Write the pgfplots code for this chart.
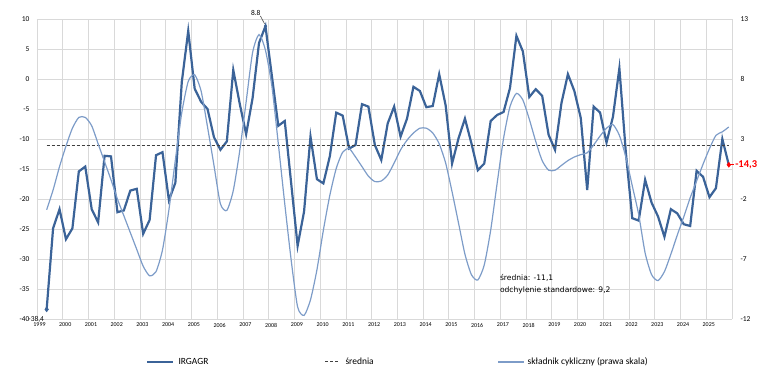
\documentclass[border=0pt]{standalone}
\usepackage{pgfplots}
\pgfplotsset{compat=1.18}
\usepackage{fontspec}
\setmainfont{Carlito}
\newfontfamily\notefont{DejaVu Sans}
\definecolor{dblue}{HTML}{3B6398}
\definecolor{lblue}{HTML}{7D9CC8}
\definecolor{gridc}{HTML}{D9D9D9}
\definecolor{meanc}{HTML}{404040}
\pgfplotsset{
  base/.style={
    scale only axis, width=695bp, height=300bp,
    at={(37bp,71bp)}, anchor=south west,
    xmin=1999, xmax=2026,
    clip=false,
    tick style={draw=none}, major tick length=0pt,
    axis line style={draw=none},
    /pgf/number format/assume math mode=true,
  },
  shortleg/.style={legend image code/.code={\draw[##1] (0bp,0bp) -- (14bp,0bp);}},
  longleg/.style={legend image code/.code={\draw[##1] (0bp,0bp) -- (26bp,0bp);}},
}
\begin{document}
\begin{tikzpicture}
\useasboundingbox (0bp,0bp) rectangle (770bp,390bp);
\begin{axis}[base,
  ymin=-40, ymax=10,
  xtick={1999,2000,...,2026},
  xticklabels={1999,2000,2001,2002,2003,2004,2005,2006,2007,2008,2009,2010,2011,2012,2013,2014,2015,2016,2017,2018,2019,2020,2021,2022,2023,2024,2025,{}},
  x tick label style={font=\fontsize{6}{7}\selectfont, yshift=-0.5bp, xshift=2.5bp},
  ytick={-40,-35,...,10},
  y tick label style={font=\fontsize{7.5}{9}\selectfont, xshift=-4bp},
  grid=major, major grid style={gridc, line width=0.75bp},
  legend columns=3,
  legend style={draw=none, fill=none, at={(0.157,-0.143)}, anchor=west,
    font=\fontsize{9.5}{11}\selectfont, inner sep=0pt,
    nodes={inner sep=0pt}, /tikz/column sep=0pt},
  longleg,
]
\addplot[dblue, line width=2.2bp] coordinates {
(1999.375,-38.4) (1999.625,-24.9) (1999.875,-21.7)
(2000.125,-26.7) (2000.375,-24.9) (2000.625,-15.4) (2000.875,-14.6)
(2001.125,-21.7) (2001.375,-23.9) (2001.625,-12.8) (2001.875,-12.9)
(2002.125,-22.2) (2002.375,-21.9) (2002.625,-18.6) (2002.875,-18.3)
(2003.125,-25.8) (2003.375,-23.5) (2003.625,-12.7) (2003.875,-12.2)
(2004.125,-20.2) (2004.375,-17.3) (2004.625,-0.5) (2004.875,8.0)
(2005.125,-1.6) (2005.375,-3.8) (2005.625,-5.0) (2005.875,-9.7)
(2006.125,-11.8) (2006.375,-10.4) (2006.625,1.5) (2006.875,-4.1)
(2007.125,-9.2) (2007.375,-3.2) (2007.625,6.0) (2007.875,8.8)
(2008.125,0.5) (2008.375,-7.8) (2008.625,-7.0) (2008.875,-17.4)
(2009.125,-27.8) (2009.375,-22.1) (2009.625,-9.6) (2009.875,-16.7)
(2010.125,-17.4) (2010.375,-12.9) (2010.625,-5.6) (2010.875,-6.1)
(2011.125,-11.6) (2011.375,-11.0) (2011.625,-4.2) (2011.875,-4.6)
(2012.125,-11.0) (2012.375,-13.5) (2012.625,-7.4) (2012.875,-4.6)
(2013.125,-9.6) (2013.375,-6.6) (2013.625,-1.3) (2013.875,-2.0)
(2014.125,-4.7) (2014.375,-4.5) (2014.625,0.8) (2014.875,-4.4)
(2015.125,-14.1) (2015.375,-9.9) (2015.625,-6.6) (2015.875,-10.7)
(2016.125,-15.2) (2016.375,-14.1) (2016.625,-7.0) (2016.875,-6.0)
(2017.125,-5.5) (2017.375,-1.5) (2017.625,7.2) (2017.875,4.6)
(2018.125,-3.0) (2018.375,-1.7) (2018.625,-2.8) (2018.875,-9.3)
(2019.125,-11.8) (2019.375,-4.0) (2019.625,0.8) (2019.875,-2.0)
(2020.125,-6.5) (2020.375,-18.5) (2020.625,-4.6) (2020.875,-5.6)
(2021.125,-10.6) (2021.375,-6.3) (2021.625,1.8) (2021.875,-12.2)
(2022.125,-23.2) (2022.375,-23.6) (2022.625,-16.8) (2022.875,-20.6)
(2023.125,-22.9) (2023.375,-26.3) (2023.625,-21.7) (2023.875,-22.4)
(2024.125,-24.2) (2024.375,-24.5) (2024.625,-15.3) (2024.875,-16.3)
(2025.125,-19.7) (2025.375,-18.2) (2025.625,-10.0) (2025.875,-14.3)
};
\addlegendentry{\makebox[150bp][l]{\hspace{4bp}IRGAGR}}
\addplot[meanc, line width=1bp, dash pattern=on 3bp off 2bp, shortleg] coordinates {(1999.375,-11.1) (2025.875,-11.1)};
\addlegendentry{\makebox[158bp][l]{\hspace{6bp}średnia}}
\addlegendimage{lblue, line width=1.2bp}
\addlegendentry{\hspace{3bp}składnik cykliczny (prawa skala)}
% markers
\addplot[forget plot, only marks, mark=diamond*, mark size=2.5bp, dblue] coordinates {(1999.375,-38.4)};
\addplot[forget plot, only marks, mark=diamond*, mark size=1.8bp, dblue] coordinates {(2007.875,8.8)};
\addplot[forget plot, only marks, mark=diamond*, mark size=2.5bp, red] coordinates {(2025.875,-14.3)};
\node[anchor=east, font=\fontsize{7.5}{9}\selectfont, inner sep=0pt] at (axis cs:1999.28,-40) {-38,4};
\node[anchor=south, font=\fontsize{7.5}{9}\selectfont, inner sep=0pt] at (axis cs:2007.5,10.6) {8.8};
\draw[black!70, line width=0.6bp] (axis cs:2007.68,10.5) -- (axis cs:2007.84,9.2);
\node[anchor=west, text=red, font=\bfseries\fontsize{10.5}{12}\selectfont, inner sep=0pt] at (axis cs:2026.12,-14.3) {-14,3};
\draw[red, line width=1bp] (axis cs:2025.9,-14.3) -- (axis cs:2026.08,-14.3);
\node[anchor=north west, align=left, font=\notefont\fontsize{7.6}{11.5}\selectfont, inner sep=0pt] at (axis cs:2016.98,-32.6) {średnia: -11,1\\odchylenie standardowe: 9,2};
\end{axis}
\begin{axis}[base,
  ymin=-12, ymax=13,
  axis y line*=right, axis x line=none,
  ytick={-12,-7,-2,3,8,13},
  y tick label style={font=\fontsize{7.5}{9}\selectfont, xshift=5bp},
]
\addplot[lblue, line width=1.2bp, smooth, tension=0.4] coordinates {
(1999.375,-2.9) (1999.625,-1.25) (1999.875,0.7)
(2000.125,2.4) (2000.375,3.9) (2000.625,4.8) (2000.875,4.8)
(2001.125,4.1) (2001.375,2.6) (2001.625,1.1) (2001.875,-0.4)
(2002.125,-2.0) (2002.375,-3.4) (2002.625,-4.8) (2002.875,-6.2)
(2003.125,-7.6) (2003.375,-8.4) (2003.625,-8.05) (2003.875,-6.25)
(2004.125,-2.9) (2004.375,1.25) (2004.625,5.2) (2004.875,7.8)
(2005.125,8.35) (2005.375,7.0) (2005.625,4.0) (2005.875,0.8)
(2006.125,-2.4) (2006.375,-2.95) (2006.625,-1.3) (2006.875,2.0)
(2007.125,6.1) (2007.375,10.2) (2007.625,11.7) (2007.875,10.4)
(2008.125,7.4) (2008.375,2.6) (2008.625,-2.4) (2008.875,-7.1)
(2009.125,-11.0) (2009.375,-11.7) (2009.625,-10.4) (2009.875,-7.9)
(2010.125,-4.6) (2010.375,-1.7) (2010.625,0.55) (2010.875,1.9)
(2011.125,2.2) (2011.375,1.5) (2011.625,0.7) (2011.875,-0.1)
(2012.125,-0.55) (2012.375,-0.5) (2012.625,0.0) (2012.875,1.0)
(2013.125,2.1) (2013.375,2.9) (2013.625,3.5) (2013.875,3.9)
(2014.125,3.9) (2014.375,3.5) (2014.625,2.6) (2014.875,1.0)
(2015.125,-1.4) (2015.375,-4.0) (2015.625,-6.6) (2015.875,-8.3)
(2016.125,-8.75) (2016.375,-7.5) (2016.625,-4.6) (2016.875,-0.7)
(2017.125,3.05) (2017.375,5.7) (2017.625,6.8) (2017.875,6.25)
(2018.125,4.65) (2018.375,2.8) (2018.625,1.2) (2018.875,0.4)
(2019.125,0.4) (2019.375,0.8) (2019.625,1.2) (2019.875,1.5)
(2020.125,1.7) (2020.375,1.85) (2020.625,2.5) (2020.875,3.25)
(2021.125,3.9) (2021.375,4.2) (2021.625,3.3) (2021.875,1.5)
(2022.125,-0.9) (2022.375,-3.3) (2022.625,-6.5) (2022.875,-8.3)
(2023.125,-8.8) (2023.375,-8.05) (2023.625,-6.6) (2023.875,-5.0)
(2024.125,-3.5) (2024.375,-1.9) (2024.625,-0.5) (2024.875,0.9)
(2025.125,2.2) (2025.375,3.3) (2025.625,3.6) (2025.875,4.0)
};
\end{axis}
\end{tikzpicture}
\end{document}
